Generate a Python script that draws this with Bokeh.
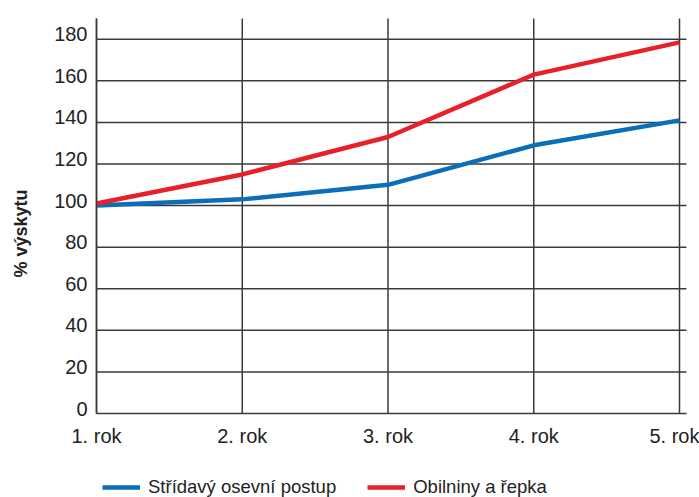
from bokeh.plotting import figure
from bokeh.models import Legend, LegendItem, FixedTicker, Range1d
from bokeh.embed import file_html
from bokeh.resources import INLINE

years = [1, 2, 3, 4, 5]
year_labels = ["1. rok", "2. rok", "3. rok", "4. rok", "5. rok"]
stridavy = [100, 103, 110, 129, 141]
obilniny = [101, 115, 133, 163, 178.5]
y_ticks = [0, 20, 40, 60, 80, 100, 120, 140, 160, 180]
series_names = ["Střídavý osevní postup", "Obilniny a řepka"]
y_title = "% výskytu"

FONT = "Liberation Sans, Arial, sans-serif"
TXT = "#222222"
GRID = "#3a3a3a"

# plotting area: x 1..X_RIGHT, y 0..Y_TOP; the ranges leave room for labels
X_RIGHT = 5.048
Y_TOP = 190

p = figure(width=699, height=497, output_backend="svg", toolbar_location=None,
           x_range=Range1d(0.3413, 5.1372), y_range=Range1d(-40.41, 198.66),
           min_border_left=0, min_border_right=0, min_border_top=0,
           min_border_bottom=0)
p.outline_line_color = None
p.background_fill_color = "white"

# axes fixed to the corner of the plotting area
p.xaxis.fixed_location = 0
p.xaxis.bounds = (1, X_RIGHT)
p.xaxis.ticker = FixedTicker(ticks=years)
p.xaxis.major_label_overrides = {y: l for y, l in zip(years, year_labels)}

p.yaxis.fixed_location = 1
p.yaxis.bounds = (0, Y_TOP)
lab_shift = 2.4  # y labels sit slightly above their grid lines
y_label_pos = [round(v + lab_shift, 1) for v in y_ticks]
p.yaxis.ticker = FixedTicker(ticks=y_label_pos)
p.yaxis.major_label_overrides = {pos: str(v) for pos, v in zip(y_label_pos, y_ticks)}

for ax in (p.xaxis[0], p.yaxis[0]):
    ax.major_tick_line_color = None
    ax.minor_tick_line_color = None
    ax.major_tick_out = 0
    ax.major_tick_in = 0
    ax.minor_tick_out = 0
    ax.axis_line_color = GRID
    ax.axis_line_width = 1.5
    ax.major_label_text_font = FONT
    ax.major_label_text_font_size = "20px"
    ax.major_label_text_color = TXT
p.xaxis.major_label_standoff = 12
p.yaxis.major_label_standoff = 9

p.yaxis.axis_label = y_title + "\u00a0" * 7
p.yaxis.axis_label_text_font = FONT
p.yaxis.axis_label_text_font_size = "18px"
p.yaxis.axis_label_text_font_style = "bold"
p.yaxis.axis_label_text_color = TXT
p.yaxis.axis_label_standoff = 20

# grid drawn as segments so it stays inside the plotting area
p.xgrid.visible = False
p.ygrid.visible = False
gy = y_ticks[1:]
p.segment(x0=[1] * len(gy), y0=gy, x1=[X_RIGHT] * len(gy), y1=gy,
          line_color=GRID, line_width=1.5)
p.segment(x0=years, y0=[0] * len(years), x1=years, y1=[Y_TOP] * len(years),
          line_color=GRID, line_width=1.5)

r1 = p.line(years, stridavy, line_width=4.5, line_color="#0a6fb8", line_join="round")
r2 = p.line(years, obilniny, line_width=4.5, line_color="#e8202a", line_join="round")

legend = Legend(items=[LegendItem(label=series_names[0], renderers=[r1]),
                       LegendItem(label=series_names[1], renderers=[r2])],
                orientation="horizontal", location=(102, -1),
                glyph_width=38, glyph_height=20, label_standoff=8, spacing=31,
                padding=0, margin=0, border_line_color=None,
                background_fill_alpha=0,
                label_text_font=FONT, label_text_font_size="18.5px",
                label_text_color=TXT)
p.add_layout(legend, "center")

open("out.html", "w").write(file_html(p, INLINE))
